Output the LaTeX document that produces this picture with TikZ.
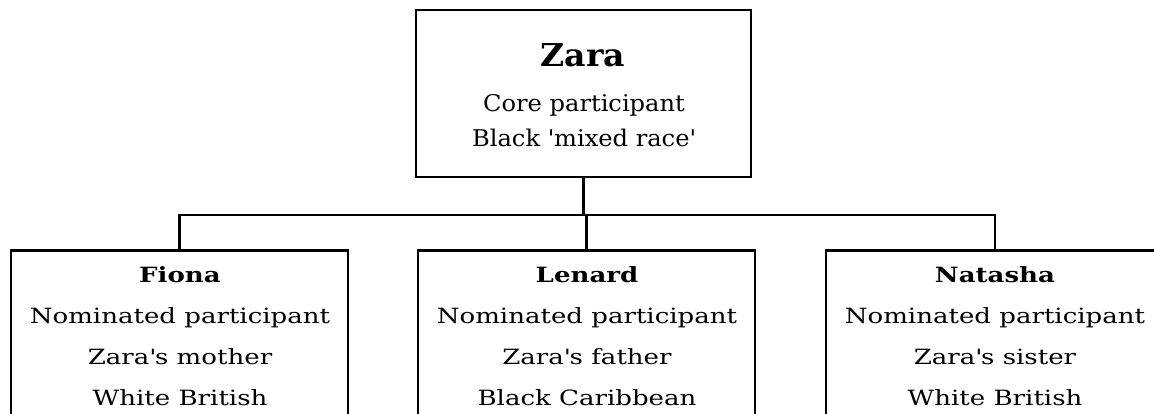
\documentclass[tikz,border=0pt]{standalone}
\usepackage{fontspec}
\setmainfont{DejaVu Serif}
\newfontfamily\topserif[FakeStretch=1.05]{DejaVu Serif}
\newfontfamily\wideserif[FakeStretch=1.24]{DejaVu Serif}
\begin{document}
\begin{tikzpicture}[x=1pt,y=-1pt,
  box/.style={draw, line width=2.6pt, inner sep=0pt, minimum width=337pt},
  title/.style={anchor=base, inner sep=0pt, font=\topserif\fontsize{31.5}{31.5}\selectfont\bfseries},
  ttext/.style={anchor=base, inner sep=0pt, font=\topserif\fontsize{23}{23}\selectfont},
  ctitle/.style={anchor=base, inner sep=0pt, font=\wideserif\fontsize{21}{21}\selectfont\bfseries},
  ctext/.style={anchor=base, inner sep=0pt, font=\wideserif\fontsize{21}{21}\selectfont},
  conn/.style={line width=2.6pt}]
\useasboundingbox (0,0) rectangle (1154,414);
\clip (0,0) rectangle (1154,414);
% boxes
\node[box, minimum width=335pt, minimum height=167pt] (zara) at (583.5,93.5) {};
\node[box, minimum height=200pt] (fiona) at (179.5,350.5) {};
\node[box, minimum height=200pt] (lenard) at (586.5,350.5) {};
\node[box, minimum width=338pt, minimum height=200pt] (natasha) at (995,350.5) {};
% texts
\node[title] (zname) at (583,67) {Zara};
\node[ttext] (zrole) at (584,112) {Core participant};
\node[ttext] (zeth) at (584,147) {Black \textquotesingle mixed race\textquotesingle};
\node[ctitle] (fname) at (180,283) {Fiona};
\node[ctext] (frole) at (180,323) {Nominated participant};
\node[ctext] (frel) at (180,364) {Zara\textquotesingle s mother};
\node[ctext] (feth) at (180,405) {White British};
\node[ctitle] (lname) at (587,283) {Lenard};
\node[ctext] (lrole) at (587,323) {Nominated participant};
\node[ctext] (lrel) at (587,364) {Zara\textquotesingle s father};
\node[ctext] (leth) at (587,405) {Black Caribbean};
\node[ctitle] (nname) at (995,283) {Natasha};
\node[ctext] (nrole) at (995,323) {Nominated participant};
\node[ctext] (nrel) at (995,364) {Zara\textquotesingle s sister};
\node[ctext] (neth) at (995,405) {White British};
% connectors
\coordinate (bus) at (583.5,215);
\draw[conn] (zara.south) -- (bus);
\draw[conn] (fiona.north) |- (bus) -| (natasha.north);
\draw[conn] (lenard.north) -- (lenard.north |- bus);
\end{tikzpicture}
\end{document}
